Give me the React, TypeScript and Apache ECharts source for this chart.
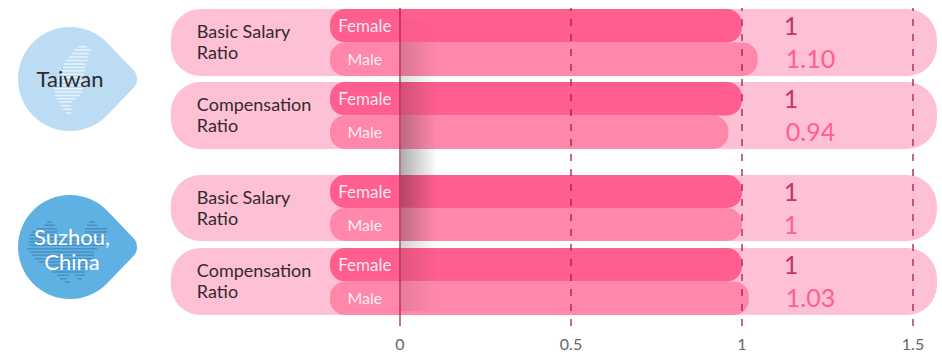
import React, { useEffect, useRef } from "react";
import * as echarts from "echarts";

const FONT = "Lato";
const genders = ["Female", "Male"];
const metricLabels = ["Basic Salary\nRatio", "Compensation\nRatio", "Basic Salary\nRatio", "Compensation\nRatio"];
const femaleBars = [1, 1, 1, 1];
const maleBars = [1.046, 0.96, 1, 1.02];
const femaleLabels = ["1", "1", "1", "1"];
const maleLabels = ["1.10", "0.94", "1", "1.03"];
const tickValues = [0, 0.5, 1, 1.5];
const dashedTicks = [0.5, 1, 1.5];
const PILL_START = -0.67;
const BAR_START = -0.2047;

const PINK_PILL = "#fec0d4";
const PINK_F = "#ff5e8e";
const PINK_M = "#ff88aa";
const PINK_DARK = "#c2336f";

const groupBoxes = [
  [9, 67],
  [82, 67],
  [175, 66],
  [248, 67],
];

const X_MIN = -1;
const X_MAX = 1.57;
const PILL_END = X_MAX;
const GRID_LEFT = 58;
const GRID_WIDTH = 878.94;

const dropPath =
  "M37.5 -36 L63.4 -9 A13 13 0 0 1 63.4 9 L37.5 36 A52 52 0 1 1 37.5 -36 Z";

const taiwanStripes: number[][] = [
  [46.7, 78, 87], [50, 74, 91], [53.5, 72, 89], [57, 69, 88], [60.5, 66, 88],
  [64, 64, 86], [67.4, 63, 85], [70.8, 62, 85], [74.2, 61, 84], [77.6, 58, 84],
  [81, 56, 84], [84.9, 54, 84], [88.7, 54, 83], [92, 55, 82], [95.4, 55, 80],
  [98.7, 57, 76], [102, 59, 72], [105.7, 61, 71], [109.3, 63, 72], [112.7, 66, 71],
];
const suzhouStripes: number[][] = [
  [222, 47, 52], [222, 89, 95], [225.3, 44, 55], [225.3, 87, 97], [228.7, 37, 57], [228.7, 85, 107],
  [232, 32, 57], [232, 85, 107], [235, 30, 56], [235, 85, 105], [238.7, 29, 105], [242, 29, 105],
  [245.3, 29, 104], [248.7, 27, 97], [252, 30, 94], [255.3, 32, 94], [258.7, 35, 94], [262, 39, 92],
  [265.3, 44, 89], [268.7, 47, 90], [272, 52, 85], [275.3, 57, 69], [275.3, 75, 85], [278.7, 60, 67],
  [278.7, 77, 82], [282, 65, 70],
];
const stripesToPath = (rows: number[][]) =>
  rows.map(([y, a, b]) => `M${a} ${y - 0.75} H${b} V${y + 0.75} H${a} Z`).join(" ");

// vertical fade of the soft shadow beside the zero line
const shadowBands: number[][] = [
  [20, 22, 0.03], [42, 34, 0.17], [76, 6, 0.14], [82, 33, 0.2], [115, 34, 0.29],
  [149, 26, 0.36], [175, 32, 0.34], [207, 34, 0.27], [241, 7, 0.2], [248, 33, 0.13], [281, 30, 0.11],
];

function registerShapes() {
  echarts.graphic.registerShape("dropShape", echarts.graphic.extendPath(dropPath, {}) as any);
  echarts.graphic.registerShape("taiwanMap", echarts.graphic.extendPath(stripesToPath(taiwanStripes), {}) as any);
  echarts.graphic.registerShape("suzhouMap", echarts.graphic.extendPath(stripesToPath(suzhouStripes), {}) as any);
}

function buildOption() {
  const grid: any[] = groupBoxes.map(([top, height]) => ({
    left: GRID_LEFT, width: GRID_WIDTH, top, height, outerBoundsMode: "none",
  }));
  grid.push({ left: GRID_LEFT, width: GRID_WIDTH, top: 8, height: 318, outerBoundsMode: "none" });

  const xAxis: any[] = groupBoxes.map((_, i) => ({
    type: "value", gridIndex: i, min: X_MIN, max: X_MAX, show: false,
  }));
  xAxis.push({
    type: "value", gridIndex: 4, min: X_MIN, max: X_MAX,
    axisLine: { show: false }, axisTick: { show: false }, splitLine: { show: false },
    axisLabel: {
      customValues: tickValues, color: "#666", fontSize: 16, fontFamily: FONT, margin: 9,
      hideOverlap: false, formatter: (v: number) => String(v),
    },
  });
  const yAxis: any[] = groupBoxes.map((_, i) => ({
    type: "category", gridIndex: i, data: genders, inverse: true, show: false,
  }));
  yAxis.push({ type: "value", gridIndex: 4, min: 0, max: 1, show: false });

  const series: any[] = [];
  groupBoxes.forEach((_, i) => {
    series.push({
      type: "custom", xAxisIndex: i, yAxisIndex: i, silent: true, z: 2,
      data: [[PILL_START, 0]],
      encode: { x: 0, y: 1 },
      renderItem: (params: any, api: any) => {
        const cs = params.coordSys;
        const x0 = api.coord([PILL_START, 0])[0];
        const x1 = api.coord([PILL_END, 0])[0];
        const tx = api.coord([-0.594, 0])[0];
        return {
          type: "group",
          children: [
            { type: "rect", shape: { x: x0, y: cs.y, width: x1 - x0, height: cs.height, r: 30 }, style: { fill: PINK_PILL } },
            {
              type: "text",
              style: {
                x: tx, y: cs.y + cs.height / 2 - 1, text: metricLabels[i], fill: "#35292d",
                font: `18px ${FONT}`, lineHeight: 21, align: "left", verticalAlign: "middle",
              },
            },
          ],
        };
      },
    });
    const rows = [femaleBars[i], maleBars[i]];
    series.push({
      type: "custom", xAxisIndex: i, yAxisIndex: i, silent: true, z: 3,
      data: rows.map((v, r) => [v, r]),
      encode: { x: 0, y: 1 },
      renderItem: (params: any, api: any) => {
        const r = api.value(1);
        const [x1, yc] = api.coord([api.value(0), r]);
        const x0 = api.coord([BAR_START, r])[0];
        const h = api.size([0, 1])[1];
        const labelX = api.coord([BAR_START + 0.102, r])[0];
        const valueText = r === 0 ? femaleLabels[i] : maleLabels[i];
        const single = valueText.length === 1;
        const vx = api.coord([single ? 1.143 : 1.128, r])[0];
        return {
          type: "group",
          children: [
            { type: "rect", shape: { x: x0, y: yc - h / 2, width: x1 - x0, height: h, r: 15 }, style: { fill: r === 0 ? PINK_F : PINK_M } },
            {
              type: "text",
              style: {
                x: labelX, y: yc - 0.5, text: genders[r], fill: "rgba(255,255,255,0.88)",
                font: `${r === 0 ? 17 : 16}px ${FONT}`, align: "center", verticalAlign: "middle",
              },
            },
            {
              type: "text",
              style: {
                x: vx, y: yc - 1, text: valueText, fill: r === 0 ? PINK_DARK : PINK_F,
                font: `25px ${FONT}`, align: single ? "center" : "left", verticalAlign: "middle",
              },
            },
          ],
        };
      },
    });
  });
  series.push({
    type: "line", xAxisIndex: 4, yAxisIndex: 4, data: [], silent: true, z: 10,
    markLine: {
      silent: true, symbol: "none", z: 10, animation: false, label: { show: false },
      data: [
        { xAxis: 0, lineStyle: { color: "rgba(170,35,100,0.66)", width: 2, type: "solid" } },
        ...dashedTicks.map((t) => ({
          xAxis: t,
          lineStyle: { color: "rgba(165,30,100,0.68)", width: 2, type: [7, 8] },
        })),
      ],
    },
  });

  const shadow = shadowBands.map(([y, h, a]) => ({
    type: "rect", z: 4, silent: true,
    shape: { x: 401, y, width: 36, height: h },
    style: {
      fill: {
        type: "linear", x: 0, y: 0, x2: 1, y2: 0,
        colorStops: [
          { offset: 0, color: `rgba(30,30,30,${a})` },
          { offset: 1, color: "rgba(30,30,30,0)" },
        ],
      },
    },
  }));

  const graphic = {
    elements: [
      { type: "dropShape", x: 70, y: 79, silent: true, z: 1, style: { fill: "#bbdcf3" } },
      { type: "taiwanMap", x: 0, y: 0, silent: true, z: 1, style: { fill: "#e6f2fb" } },
      {
        type: "text", silent: true, z: 1, x: 70, y: 78,
        style: { text: "Taiwan", fill: "#2e2a2c", font: `22px ${FONT}`, align: "center", verticalAlign: "middle" },
      },
      { type: "dropShape", x: 70, y: 247, silent: true, z: 1, style: { fill: "#5fb0e3" } },
      { type: "suzhouMap", x: 0, y: 0, silent: true, z: 1, style: { fill: "#4a8fc4" } },
      {
        type: "text", silent: true, z: 1, x: 72, y: 249,
        style: { text: "Suzhou,\nChina", fill: "#fff", font: `22px ${FONT}`, lineHeight: 25, align: "center", verticalAlign: "middle" },
      },
      ...shadow,
    ],
  };

  return { animation: false, backgroundColor: "#fff", grid, xAxis, yAxis, series, graphic };
}

export default function App() {
  const ref = useRef<HTMLDivElement>(null);
  useEffect(() => {
    document.body.style.margin = "0";
    registerShapes();
    const chart = echarts.init(ref.current!, undefined, { renderer: "svg" });
    chart.setOption(buildOption() as any);
    return () => chart.dispose();
  }, []);
  return <div ref={ref} style={{ width: 942, height: 353 }} />;
}
